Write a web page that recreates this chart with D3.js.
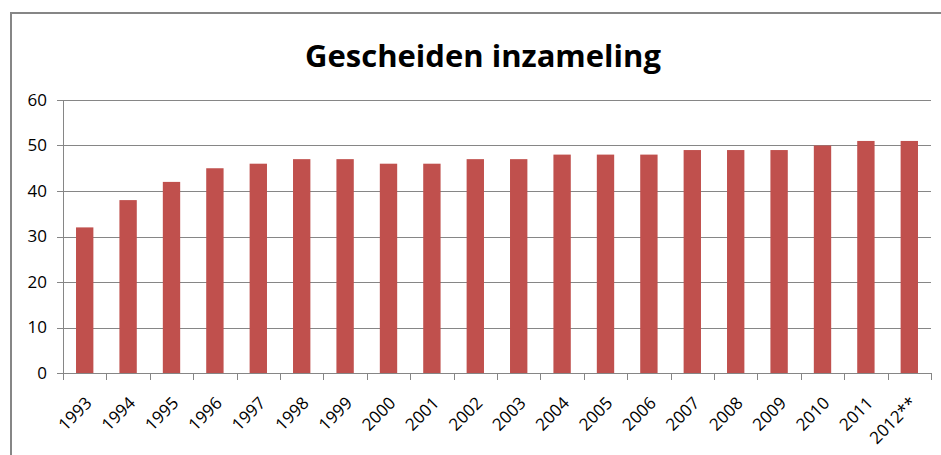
<!DOCTYPE html>
<html>
<head>
<meta charset="utf-8">
<script src="https://cdn.jsdelivr.net/npm/d3@7"></script>
<style>
  html, body { margin: 0; padding: 0; background: #fff; }
  svg { display: block; }
</style>
</head>
<body>
<div id="chart"></div>
<script>
// Gescheiden inzameling, bar chart per jaar

const years = ['1993', '1994', '1995', '1996', '1997', '1998', '1999', '2000', '2001', '2002',
               '2003', '2004', '2005', '2006', '2007', '2008', '2009', '2010', '2011', '2012**'];
const values = [32, 38, 42, 45, 46, 47, 47, 46, 46, 47,
                47, 48, 48, 48, 49, 49, 49, 50, 51, 51];
const yTicks = [0, 10, 20, 30, 40, 50, 60];
const title = 'Gescheiden inzameling';

const W = 941, H = 455;
const M = { top: 100, right: 10, bottom: 82, left: 63 };
const iW = W - M.left - M.right;
const iH = H - M.top - M.bottom;

const svg = d3.select('#chart').append('svg')
    .attr('width', W).attr('height', H);

// chart frame (runs off the right and bottom edges)
svg.append('rect')
    .attr('x', 11).attr('y', 13)
    .attr('width', W + 20).attr('height', H + 20)
    .attr('fill', '#fff').attr('stroke', '#868686').attr('stroke-width', 2);

svg.append('text')
    .attr('x', 483).attr('y', 67)
    .attr('text-anchor', 'middle')
    .attr('font-family', 'Open Sans, sans-serif')
    .attr('font-weight', 'bold')
    .attr('font-size', 31)
    .attr('fill', '#000')
    .text(title);

const g = svg.append('g').attr('transform', `translate(${M.left},${M.top})`);

const x = d3.scaleBand().domain(years).range([0, iW]).paddingInner(0.6).paddingOuter(0.3);
const xEdge = d3.scaleBand().domain(years).range([0, iW]);
const y = d3.scaleLinear().domain([0, 60]).range([iH, 0]);

// gridlines
g.append('g').selectAll('line').data(yTicks).enter().append('line')
    .attr('x1', -6).attr('x2', iW)
    .attr('y1', d => Math.round(y(d)) + 0.5).attr('y2', d => Math.round(y(d)) + 0.5)
    .attr('stroke', '#868686').attr('stroke-width', 1);

// y axis line
g.append('line')
    .attr('x1', 0.5).attr('x2', 0.5).attr('y1', 0).attr('y2', iH)
    .attr('stroke', '#868686');

// y labels
g.append('g').selectAll('text').data(yTicks).enter().append('text')
    .attr('x', -16).attr('y', d => y(d))
    .attr('dy', '0.35em')
    .attr('text-anchor', 'end')
    .attr('font-family', 'Open Sans, sans-serif')
    .attr('font-size', 17)
    .attr('fill', '#000')
    .text(d => d);

// bars
g.selectAll('rect.bar').data(values).enter().append('rect')
    .attr('class', 'bar')
    .attr('x', (d, i) => x(years[i]))
    .attr('width', x.bandwidth())
    .attr('y', d => y(d))
    .attr('height', d => iH - y(d))
    .attr('fill', '#C0504D');

// x tick marks at category edges
const edges = years.map(yr => xEdge(yr)).concat([iW]);
g.append('g').selectAll('line').data(edges).enter().append('line')
    .attr('x1', d => Math.round(d) + 0.5).attr('x2', d => Math.round(d) + 0.5)
    .attr('y1', iH).attr('y2', iH + 7)
    .attr('stroke', '#868686');

// x labels, rotated
g.append('g').selectAll('text').data(years).enter().append('text')
    .attr('transform', yr => `translate(${xEdge(yr) + xEdge.bandwidth() / 2 + 4},${iH + 27}) rotate(-45)`)
    .attr('text-anchor', 'end')
    .attr('dy', '0.35em')
    .attr('font-family', 'Open Sans, sans-serif')
    .attr('font-size', 17)
    .attr('fill', '#000')
    .text(d => d);
</script>
</body>
</html>
